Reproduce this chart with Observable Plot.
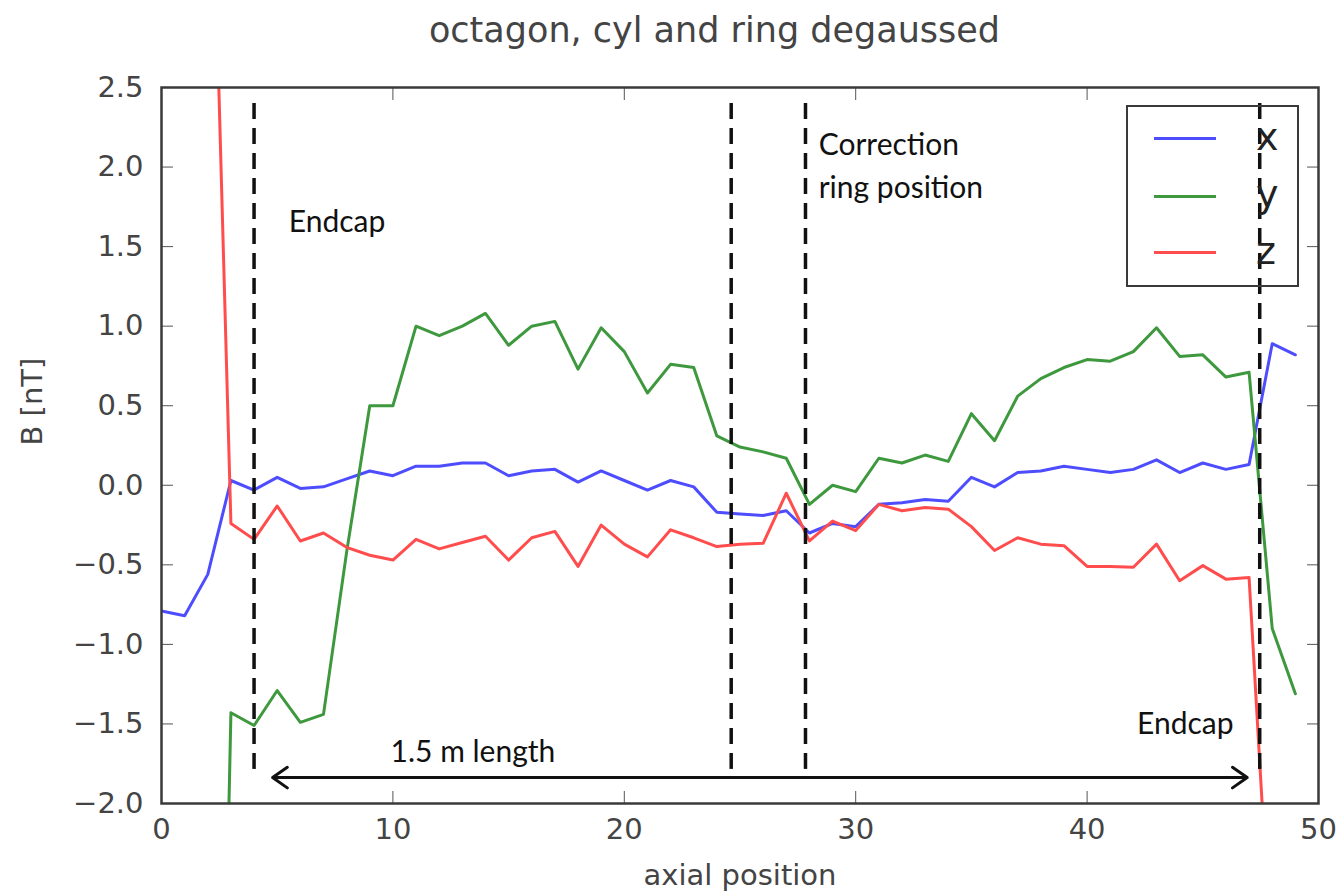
<!DOCTYPE html>
<html>
<head>
<meta charset="utf-8">
<script src="https://cdn.jsdelivr.net/npm/d3@7"></script>
<script src="https://cdn.jsdelivr.net/npm/@observablehq/plot@0.6"></script>
<style>
  body { margin: 0; background: #fff; }
  #wrap { position: relative; width: 1342px; height: 896px; overflow: hidden; }
  #title { height: 60px; line-height: 60px; box-sizing: border-box; padding-left: 111px; padding-right: 24px;
           text-align: center; font-family: "DejaVu Sans", sans-serif; font-size: 35px; color: #444; }
  #legend { position: absolute; left: 1126px; top: 105px; width: 173px; height: 182px; box-sizing: border-box;
            border: 2.5px solid #3a3a3a; background: transparent; }
  .lg-row { position: absolute; left: 0; width: 100%; height: 0; }
  .lg-line { position: absolute; left: 26px; width: 62px; height: 0; border-top: 3px solid; top: -1.5px; }
  .lg-text { position: absolute; left: 128px; top: -23px; line-height: 42px; height: 42px;
             font-family: "DejaVu Sans", sans-serif; font-size: 38px; color: #222; }
</style>
</head>
<body>
<div id="wrap">
  <div id="title">octagon, cyl and ring degaussed</div>
  <div id="chart"></div>
  <div id="legend"></div>
</div>
<script>
// ---- data ----
const positions = [0,1,2,3,4,5,6,7,8,9,10,11,12,13,14,15,16,17,18,19,20,21,22,23,24,25,26,27,28,29,30,31,32,33,34,35,36,37,38,39,40,41,42,43,44,45,46,47,48,49];
const bx = [-0.79,-0.82,-0.56,0.03,-0.03,0.05,-0.02,-0.01,0.04,0.09,0.06,0.12,0.12,0.14,0.14,0.06,0.09,0.10,0.02,0.09,0.03,-0.03,0.03,-0.01,-0.17,-0.18,-0.19,-0.16,-0.30,-0.24,-0.26,-0.12,-0.11,-0.09,-0.10,0.05,-0.01,0.08,0.09,0.12,0.10,0.08,0.10,0.16,0.08,0.14,0.10,0.13,0.89,0.82];
const by = [-12,-10,-8.2,-1.43,-1.51,-1.29,-1.49,-1.44,-0.42,0.50,0.50,1.00,0.94,1.00,1.08,0.88,1.00,1.03,0.73,0.99,0.84,0.58,0.76,0.74,0.31,0.24,0.21,0.17,-0.12,0.00,-0.04,0.17,0.14,0.19,0.15,0.45,0.28,0.56,0.67,0.74,0.79,0.78,0.84,0.99,0.81,0.82,0.68,0.71,-0.90,-1.31];
const bz = [12,9,5.0,-0.24,-0.34,-0.13,-0.35,-0.30,-0.39,-0.44,-0.47,-0.34,-0.40,-0.36,-0.32,-0.47,-0.33,-0.29,-0.51,-0.25,-0.37,-0.45,-0.28,-0.33,-0.385,-0.37,-0.365,-0.05,-0.35,-0.225,-0.285,-0.12,-0.16,-0.14,-0.15,-0.26,-0.41,-0.33,-0.37,-0.38,-0.51,-0.51,-0.515,-0.37,-0.60,-0.505,-0.59,-0.58,-3.1,-4.0];
const seriesNames = ["x", "y", "z"];
const seriesColors = ["#4d4dff", "#3e983e", "#ff4d4d"];
const markerPositions = [4.0, 24.62, 27.83, 47.46];
const markerTop = 2.4, markerBottom = -1.79;
const arrowStart = 4.8, arrowEnd = 46.92, arrowLevel = -1.837;
const noteX = [5.5, 28.4, 28.4, 9.9, 42.16];
const noteY = [1.65, 2.136, 1.865, -1.68, -1.5];
const noteText = ["Endcap", "Correction", "ring position", "1.5 m length", "Endcap"];
const xTicks = [0, 10, 20, 30, 40, 50];
const yTicks = [-2.0, -1.5, -1.0, -0.5, 0.0, 0.5, 1.0, 1.5, 2.0, 2.5];
const xLabel = "axial position";
const yLabel = "B [nT]";

// ---- tables built from the arrays ----
const series = [bx, by, bz];
const rows = positions.flatMap((p, i) => seriesNames.map((s, k) => ({pos: p, B: series[k][i], axis: s})));
const notes = noteText.map((t, i) => ({x: noteX[i], y: noteY[i], text: t}));
const mid = (arrowStart + arrowEnd) / 2;
const arrows = [{x1: mid, x2: arrowStart, y: arrowLevel}, {x1: mid, x2: arrowEnd, y: arrowLevel}];

const tickColor = "#555";
const labelColor = "#444";

const chart = Plot.plot({
  width: 1342,
  height: 836,
  marginTop: 27,
  marginBottom: 93,
  marginLeft: 161,
  marginRight: 24,
  style: {fontFamily: "DejaVu Sans, sans-serif", fontSize: "29px", color: labelColor, background: "#fff"},
  x: {domain: [0, 50]},
  y: {domain: [-2, 2.5]},
  color: {domain: seriesNames, range: seriesColors},
  marks: [
    Plot.line(rows, {x: "pos", y: "B", z: "axis", stroke: "axis", strokeWidth: 3, clip: true, strokeLinejoin: "round"}),
    Plot.ruleX(markerPositions, {x: d => d, y1: () => markerTop, y2: () => markerBottom,
      stroke: "#111", strokeWidth: 3.5, strokeDasharray: "16,9"}),
    Plot.arrow(arrows, {x1: "x1", y1: "y", x2: "x2", y2: "y", stroke: "#111", strokeWidth: 3, headLength: 9, headAngle: 70}),
    Plot.text(notes, {x: "x", y: "y", text: "text", textAnchor: "start", lineAnchor: "middle",
      fontFamily: "Lato, sans-serif", fontSize: 30, fill: "#111"}),
    Plot.axisX({ticks: xTicks, tickSize: -12, tickPadding: 27, tickFormat: d3.format("d"), label: null,
      stroke: tickColor, fill: labelColor}),
    Plot.axisX({ticks: xTicks, anchor: "top", tickSize: -12, label: null, stroke: tickColor, fill: "none"}),
    Plot.axisY({ticks: yTicks, tickSize: -12, tickPadding: 30, tickFormat: d3.format(".1f"), label: null,
      stroke: tickColor, fill: labelColor}),
    Plot.axisY({ticks: yTicks, anchor: "right", tickSize: -12, label: null, stroke: tickColor, fill: "none"}),
    Plot.frame({stroke: "#3a3a3a", strokeWidth: 2.5}),
    Plot.text([xLabel], {text: d => d, frameAnchor: "bottom", dy: 72, lineAnchor: "middle", fill: labelColor}),
    Plot.text([yLabel], {text: d => d, frameAnchor: "left", dx: -129, rotate: -90, lineAnchor: "middle", fill: labelColor})
  ]
});
document.getElementById("chart").appendChild(chart);

// ---- legend (HTML overlay) ----
const legend = document.getElementById("legend");
const rowOffsets = [31.7, 89, 145.7];
seriesNames.forEach((name, i) => {
  const row = document.createElement("div");
  row.className = "lg-row";
  row.style.top = rowOffsets[i] + "px";
  const line = document.createElement("div");
  line.className = "lg-line";
  line.style.borderTopColor = seriesColors[i];
  const txt = document.createElement("div");
  txt.className = "lg-text";
  txt.textContent = name;
  row.appendChild(line);
  row.appendChild(txt);
  legend.appendChild(row);
});
</script>
</body>
</html>
